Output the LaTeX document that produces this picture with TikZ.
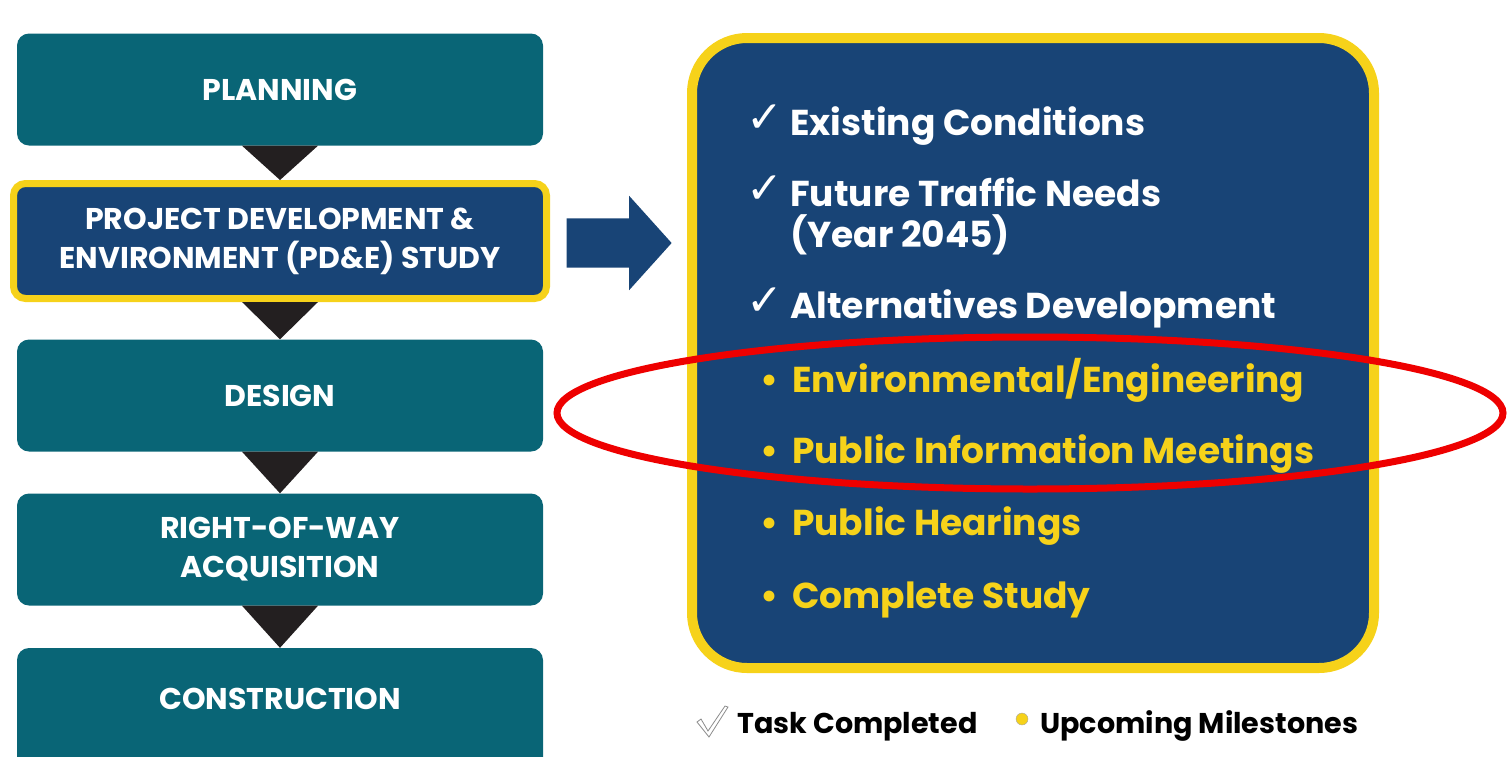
\documentclass[tikz,border=0pt]{standalone}
\usepackage{fontspec}
\setmainfont{Poppins}
\newfontfamily\symfont{DejaVu Sans}
\usetikzlibrary{calc,positioning,shapes.geometric,shapes.arrows}
\definecolor{stageteal}{RGB}{9,101,118}
\definecolor{navy}{RGB}{24,68,118}
\definecolor{gold}{RGB}{246,210,26}
\definecolor{hired}{RGB}{238,0,0}
\definecolor{tri}{RGB}{35,31,32}

\begin{document}
\begin{tikzpicture}[x=1pt,y=-1pt,
stage/.style={rounded corners=12pt,fill=stageteal,text=white,inner sep=0pt,
  font=\fontsize{30}{39}\selectfont\bfseries,align=center,minimum width=526pt,minimum height=112pt},
current/.style={stage,fill=navy,draw=gold,line width=7pt,minimum width=533pt,minimum height=115pt},
drop/.style={fill=tri},
panel/.style={rounded corners=55pt,fill=navy,draw=gold,line width=10pt,minimum width=682pt,minimum height=630pt},
done/.style={anchor=base west,inner sep=0pt,text=white,align=left,font=\fontsize{36}{41}\selectfont\bfseries},
todo/.style={done,text=gold},
tick/.style={anchor=base west,inner sep=0pt,text=white,font=\symfont\fontsize{44}{44}\selectfont},
bul/.style={anchor=base west,inner sep=0pt,text=gold,font=\fontsize{36}{41}\selectfont\bfseries},
ring/.style={ellipse,draw=hired,line width=7pt,minimum width=946pt,minimum height=152pt,inner sep=0pt},
keytext/.style={anchor=base west,inner sep=0pt,text=black,font=\fontsize{28.6}{30}\selectfont\bfseries}]
\useasboundingbox (0,0) rectangle (1508,756);
\clip (0,0) rectangle (1508,756);
\node[stage] (plan) at (280,89.5) {PLANNING};
\node[current] (pde) at (280,241) {PROJECT DEVELOPMENT \&\\ENVIRONMENT (PD\&E) STUDY};
\node[stage] (design) at (280,395.5) {DESIGN};
\node[stage] (row) at (280,549.5) {RIGHT-OF-WAY\\ACQUISITION};
\node[stage,minimum height=124pt] (build) at (280,710) {\raisebox{0pt}[0pt][0pt]{}\\[-46pt]CONSTRUCTION};
\fill[drop] ($(plan.south)+(-38,0)$) -- ($(plan.south)+(38,0)$) -- (pde.north) -- cycle;
\fill[drop] ($(pde.south)+(-38,0)$) -- ($(pde.south)+(38,0)$) -- (design.north) -- cycle;
\fill[drop] ($(design.south)+(-38,0)$) -- ($(design.south)+(38,0)$) -- (row.north) -- cycle;
\fill[drop] ($(row.south)+(-38,0)$) -- ($(row.south)+(38,0)$) -- (build.north) -- cycle;
\node[panel] (panel) at (1033,353) {};
\node[single arrow,fill=navy,inner sep=0pt,inner ysep=24.5pt,minimum height=105pt,
  single arrow head extend=22.5pt,single arrow tip angle=96] (go) at (608,243) {};
\node[tick] (t1) at (746,132) {✓};
\node[done] (i1) at (790,135) {Existing Conditions};
\node[tick] (t2) at (746,203) {✓};
\node[done] (i2) at (790,247) {Future Traffic Needs\\(Year 2045)};
\node[tick] (t3) at (746,315) {✓};
\node[done] (i3) at (790,318) {Alternatives Development};
\node[bul] (b4) at (760,392) {•};
\node[todo] (i4) at (792,392) {Environmental/Engineering};
\node[bul] (b5) at (760,463) {•};
\node[todo] (i5) at (792,463) {Public Information Meetings};
\node[bul] (b6) at (760,535) {•};
\node[todo] (i6) at (792,535) {Public Hearings};
\node[bul] (b7) at (760,608) {•};
\node[todo] (i7) at (792,608) {Complete Study};
\node[ring] (ring) at (1030,413) {};
\draw[black!45,fill=white,line width=0.8pt] (697,722) -- (701,719) -- (708,731) -- (725,706) -- (728,707) -- (709,737) -- cycle;
\node[keytext] (kdone) at (737,733) {Task Completed};
\node[circle,fill=gold,draw=black!35,minimum size=12pt,inner sep=0pt] (kdot) at (1022,719) {};
\node[keytext] (ktodo) at (1040,733) {Upcoming Milestones};
\end{tikzpicture}
\end{document}
